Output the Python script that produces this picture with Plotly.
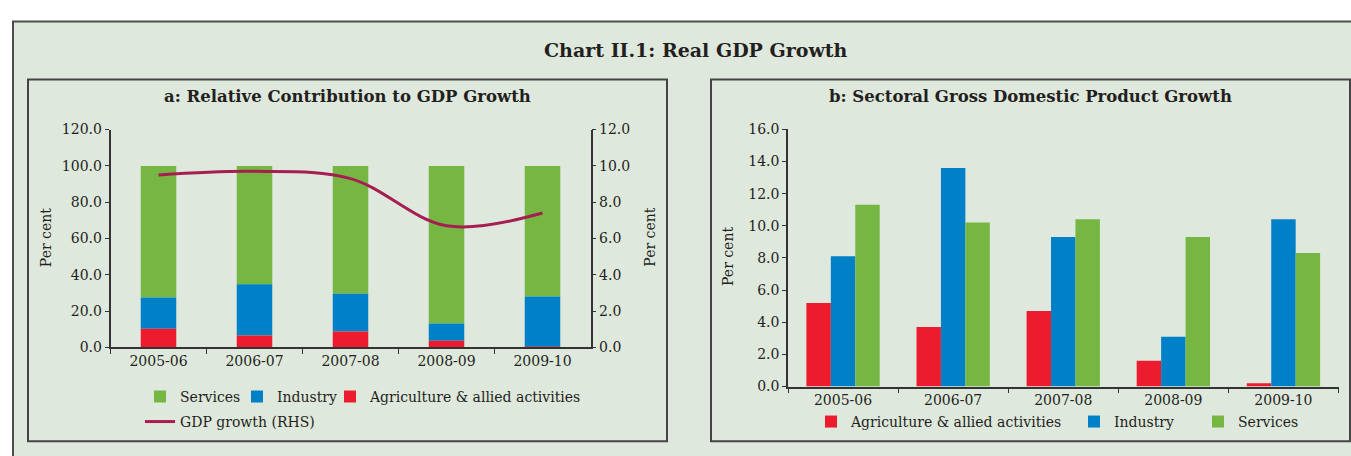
import plotly.graph_objects as go

W, H = 1351, 456

years = ["2005-06", "2006-07", "2007-08", "2008-09", "2009-10"]

# Panel a: relative contribution (per cent, stacked to 100)
contrib_agri = [10.3, 6.6, 8.7, 3.7, 0.4]
contrib_industry = [17.2, 28.2, 20.9, 9.4, 27.6]
contrib_services = [72.5, 65.2, 70.4, 86.9, 72.0]
gdp_growth = [9.5, 9.7, 9.3, 6.7, 7.4]

# Panel b: sectoral GDP growth (per cent)
growth_agri = [5.2, 3.7, 4.7, 1.6, 0.2]
growth_industry = [8.1, 13.6, 9.3, 3.1, 10.4]
growth_services = [11.3, 10.2, 10.4, 9.3, 8.3]

GREEN = "#76b743"
BLUE = "#0080c6"
RED = "#ec1c2e"
LINE = "#a61f52"
BG = "#dfe8dc"
FRAME = "#444444"
TXT = "#231f20"
FONT = "DejaVu Serif"


def px(x):
    return x / W


def py(y):
    return 1 - y / H


fig = go.Figure()

# ---- Panel a stacked bars (explicit base so grouping does not matter)
base_ind = contrib_agri
base_serv = [a + i for a, i in zip(contrib_agri, contrib_industry)]
bw_a = 0.37
fig.add_trace(go.Bar(x=years, y=contrib_services, base=base_serv, name="Services",
                     marker=dict(color=GREEN, line=dict(width=0)), width=bw_a, offset=-bw_a / 2,
                     xaxis="x", yaxis="y", legend="legend"))
fig.add_trace(go.Bar(x=years, y=contrib_industry, base=base_ind, name="Industry",
                     marker=dict(color=BLUE, line=dict(width=0)), width=bw_a, offset=-bw_a / 2,
                     xaxis="x", yaxis="y", legend="legend2"))
fig.add_trace(go.Bar(x=years, y=contrib_agri, base=[0] * len(years), name="Agriculture & allied activities",
                     marker=dict(color=RED, line=dict(width=0)), width=bw_a, offset=-bw_a / 2,
                     xaxis="x", yaxis="y", legend="legend3"))
fig.add_trace(go.Scatter(x=years, y=gdp_growth, name="GDP growth (RHS)", mode="lines",
                         line=dict(color=LINE, width=3, shape="spline"),
                         xaxis="x", yaxis="y2", legend="legend4"))

# ---- Panel b grouped bars
bw_b = 0.222
for vals, name, col, off, lg in [(growth_agri, "Agriculture & allied activities", RED, -1.5, "legend5"),
                                 (growth_industry, "Industry", BLUE, -0.5, "legend6"),
                                 (growth_services, "Services", GREEN, 0.5, "legend7")]:
    fig.add_trace(go.Bar(x=years, y=vals, name=name, marker=dict(color=col, line=dict(width=0)),
                         width=bw_b, offset=off * bw_b, xaxis="x2", yaxis="y3", legend=lg))

tickfont = dict(family=FONT, size=14, color=TXT)
axcommon = dict(showline=True, linecolor="#333333", linewidth=1.5, ticks="outside",
                tickcolor="#333333", tickwidth=1.2, showgrid=False, zeroline=False,
                tickfont=tickfont, fixedrange=True)


def leg(x, row_y):
    return dict(orientation="h", x=px(x), xanchor="left", y=py(row_y), yanchor="middle",
                bgcolor="rgba(0,0,0,0)", font=dict(family=FONT, size=14, color=TXT),
                itemclick=False, itemdoubleclick=False)


fig.update_layout(
    width=W, height=H,
    margin=dict(l=0, r=0, t=0, b=0),
    paper_bgcolor="white",
    plot_bgcolor="rgba(0,0,0,0)",
    barmode="overlay",
    font=dict(family=FONT, color=TXT),
    xaxis=dict(domain=[px(110.5), px(590.5)], anchor="y", type="category", range=[-0.5, 4.5],
               tickson="boundaries", ticklen=5, **axcommon),
    yaxis=dict(domain=[py(351.7), py(126)], anchor="x", range=[0, 120], dtick=20,
               tickformat=".1f", ticklen=4, **axcommon),
    yaxis2=dict(domain=[py(351.7), py(126)], anchor="x", overlaying="y", side="right",
                range=[0, 12], dtick=2, tickformat=".1f", ticklen=4, **axcommon),
    xaxis2=dict(domain=[px(788), px(1338.5)], anchor="y3", type="category", range=[-0.5, 4.5],
                tickson="boundaries", ticklen=5, **axcommon),
    yaxis3=dict(domain=[py(392.3), py(125.7)], anchor="x2", range=[0, 16], dtick=2,
                tickformat=".1f", ticklen=4, **axcommon),
    legend=leg(140, 403),
    legend2=leg(237, 403),
    legend3=leg(330, 403),
    legend4=leg(140, 429),
    legend5=leg(811, 429),
    legend6=leg(1074, 429),
    legend7=leg(1198, 429),
    showlegend=True,
)

# Frames
shapes = [
    dict(type="rect", xref="paper", yref="paper", x0=px(13), x1=px(1370), y0=py(14), y1=py(470),
         line=dict(color="#4d4d4d", width=2), fillcolor=BG, layer="below"),
    dict(type="rect", xref="paper", yref="paper", x0=px(28), x1=px(667), y0=py(74), y1=py(449),
         line=dict(color=FRAME, width=2), fillcolor=BG, layer="below"),
    dict(type="rect", xref="paper", yref="paper", x0=px(711), x1=px(1350), y0=py(74), y1=py(449),
         line=dict(color=FRAME, width=2), fillcolor=BG, layer="below"),
]
fig.update_layout(shapes=shapes)

annotations = [
    dict(text="<b>Chart II.1: Real GDP Growth</b>", x=px(696), y=py(44), xref="paper", yref="paper",
         showarrow=False, font=dict(family=FONT, size=19, color=TXT), xanchor="center", yanchor="middle"),
    dict(text="<b>a: Relative Contribution to GDP Growth</b>", x=px(347), y=py(92), xref="paper", yref="paper",
         showarrow=False, font=dict(family=FONT, size=16.5, color=TXT), xanchor="center", yanchor="middle"),
    dict(text="<b>b: Sectoral Gross Domestic Product Growth</b>", x=px(1030), y=py(92), xref="paper", yref="paper",
         showarrow=False, font=dict(family=FONT, size=16.5, color=TXT), xanchor="center", yanchor="middle"),
    dict(text="Per cent", x=px(45.5), y=py(238), xref="paper", yref="paper", textangle=-90,
         showarrow=False, font=dict(family=FONT, size=14, color=TXT), xanchor="center", yanchor="middle"),
    dict(text="Per cent", x=px(650), y=py(238), xref="paper", yref="paper", textangle=-90,
         showarrow=False, font=dict(family=FONT, size=14, color=TXT), xanchor="center", yanchor="middle"),
    dict(text="Per cent", x=px(728), y=py(258), xref="paper", yref="paper", textangle=-90,
         showarrow=False, font=dict(family=FONT, size=14, color=TXT), xanchor="center", yanchor="middle"),
]
fig.update_layout(annotations=annotations)

post = ("document.documentElement.style.margin='0';document.documentElement.style.overflow='hidden';"
        "document.body.style.margin='0';document.body.style.padding='0';document.body.style.overflow='hidden';"
        "var d=document.getElementById('{plot_id}');d.style.position='fixed';d.style.left='0px';d.style.top='0px';")

fig.write_html("out.html", config={"displayModeBar": False, "responsive": False}, post_script=post)
